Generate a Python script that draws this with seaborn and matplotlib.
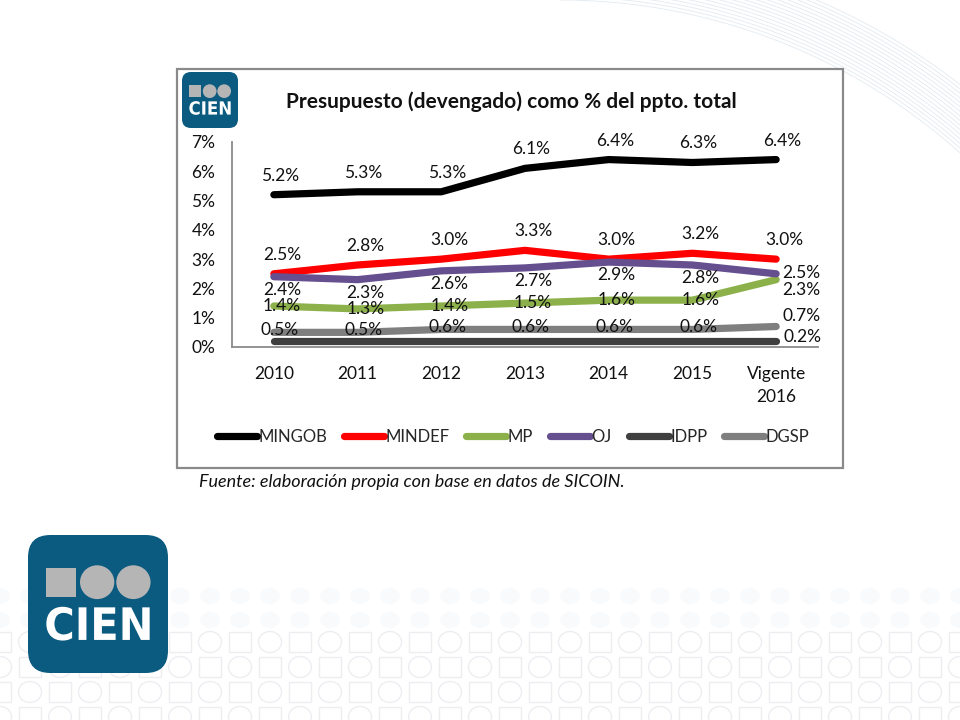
import numpy as np
import pandas as pd
import matplotlib
matplotlib.use("Agg")
import matplotlib.pyplot as plt
import seaborn as sns
from matplotlib.patches import FancyBboxPatch, Rectangle, Ellipse, PathPatch
from matplotlib.textpath import TextPath
from matplotlib.font_manager import FontProperties
from matplotlib.transforms import Affine2D
from matplotlib.lines import Line2D

# --- data ---
years = ["2010", "2011", "2012", "2013", "2014", "2015", "Vigente\n2016"]
series_names = ["MINGOB", "MINDEF", "MP", "OJ", "IDPP", "DGSP"]
mingob = [5.2, 5.3, 5.3, 6.1, 6.4, 6.3, 6.4]
mindef = [2.5, 2.8, 3.0, 3.3, 3.0, 3.2, 3.0]
mp = [1.4, 1.3, 1.4, 1.5, 1.6, 1.6, 2.3]
oj = [2.4, 2.3, 2.6, 2.7, 2.9, 2.8, 2.5]
idpp = [0.2, 0.2, 0.2, 0.2, 0.2, 0.2, 0.2]
dgsp = [0.5, 0.5, 0.6, 0.6, 0.6, 0.6, 0.7]
colors = ["#000000", "#ff0000", "#8cb04a", "#654f8f", "#3f3f3f", "#7f7f7f"]

values = [mingob, mindef, mp, oj, idpp, dgsp]
df = pd.concat([pd.DataFrame({"pos": range(len(years)), "valor": v, "serie": n})
                for n, v in zip(series_names, values)], ignore_index=True)

sns.set_theme(style="white")
plt.rcParams["font.family"] = ["Lato", "DejaVu Sans"]

fig = plt.figure(figsize=(9.6, 7.2), dpi=100)
fig.patch.set_facecolor("white")

# background layer in pixel coordinates (y down)
bg = fig.add_axes([0, 0, 1, 1], zorder=0)
bg.set_xlim(0, 960)
bg.set_ylim(720, 0)
bg.axis("off")

# faint swoosh top right
t = np.linspace(0, np.pi / 2, 200)
for k in range(16):
    r = 600 + k * 3.5
    xs = 560 + r * np.sin(t)
    ys = 600 - r * np.cos(t)
    bg.plot(xs, ys, color="#cfdde7", lw=0.6, alpha=0.6)

# faint square / circle pattern at the bottom
pat = "#eceef1"
for row, yc in enumerate([642, 667, 692, 717]):
    for i, xc in enumerate(np.arange(0, 990, 30)):
        if (i + row) % 2 == 0:
            bg.add_patch(Rectangle((xc - 11, yc - 10), 22, 20, fill=False, ec=pat, lw=1))
        else:
            bg.add_patch(Ellipse((xc, yc), 23, 21, fill=False, ec=pat, lw=1))
for yc in [596, 620]:
    for xc in np.arange(0, 990, 30):
        bg.add_patch(Ellipse((xc, yc), 20, 16, fc="#f9fafb", ec="none"))


def logo(ax, x0, y0, w, h):
    ax.add_patch(FancyBboxPatch((x0, y0), w, h,
                                boxstyle="round,pad=0,rounding_size=%f" % (w * 0.16),
                                fc="#0b5a80", ec="none", zorder=3))
    gray = "#b5b5b5"
    ax.add_patch(Rectangle((x0 + 0.131 * w, y0 + 0.237 * h), 0.21 * w, 0.21 * h,
                           fc=gray, ec="none", zorder=4))
    for cx in [0.494, 0.753]:
        ax.add_patch(Ellipse((x0 + cx * w, y0 + 0.342 * h), 0.245 * w, 0.245 * h,
                             fc=gray, ec="none", zorder=4))
    tp = TextPath((0, 0), "CIEN", size=1, prop=FontProperties(family="DejaVu Sans", weight="bold"))
    ext = tp.get_extents()
    tx0, tx1 = x0 + 0.131 * w, x0 + 0.869 * w
    ty0, ty1 = y0 + 0.52 * h, y0 + 0.765 * h
    tr = Affine2D().translate(-ext.x0, -ext.y0).scale((tx1 - tx0) / ext.width,
                                                     -(ty1 - ty0) / ext.height).translate(tx0, ty1)
    ax.add_patch(PathPatch(tr.transform_path(tp), fc="white", ec="none", zorder=5))


# big logo bottom left
logo(bg, 28, 535, 140, 138)

# chart frame
bg.add_patch(Rectangle((177, 69), 666, 399, fc="white", ec="#8a8a8a", lw=1.6, zorder=2))
logo(bg, 182, 72, 56, 56)

# --- chart ---
ax = fig.add_axes([232 / 960, (720 - 347) / 720, 586 / 960, 205 / 720], zorder=5)
ax.patch.set_alpha(0)
sns.lineplot(data=df, x="pos", y="valor", hue="serie", hue_order=series_names,
             palette=colors, linewidth=5.2, legend=False, ax=ax, sort=False, estimator=None)
for ln in ax.lines:
    ln.set_solid_capstyle("round")
    ln.set_solid_joinstyle("round")

fs = 12.5
ax.set_xlim(-0.5, 6.5)
ax.set_ylim(0, 7)
ax.set_xticks(range(len(years)))
ax.set_xticklabels(years, fontsize=fs, linespacing=1.5)
ax.set_yticks(range(8))
ax.set_yticklabels([f"{v}%" for v in range(8)], fontsize=fs)
ax.tick_params(axis="both", length=0, colors="#111111")
ax.tick_params(axis="y", pad=12)
ax.tick_params(axis="x", pad=14)
ax.set_xlabel("")
ax.set_ylabel("")
sns.despine(ax=ax, top=True, right=True)
for side in ["left", "bottom"]:
    ax.spines[side].set_color("#8a8a8a")
    ax.spines[side].set_linewidth(1.3)

# data labels: offsets in pixels (dx, dy, ha) for regular points and for the last point
px = 72 / 100
offsets = {
    "MINGOB": ((6, 19, "center"), (6, 19, "center")),
    "MINDEF": ((8, 19, "center"), (8, 19, "center")),
    "MP": ((8, 0, "center"), (6, -10, "left")),
    "OJ": ((8, -13, "center"), (6, 1, "left")),
    "IDPP": (None, (7, 4, "left")),
    "DGSP": ((6, 2, "center"), (6, 10, "left")),
}
for name, vals in zip(series_names, values):
    reg, last = offsets[name]
    for i, v in enumerate(vals):
        spec = last if i == len(vals) - 1 else reg
        if spec is None:
            continue
        dx, dy, ha = spec
        ax.annotate(f"{v:.1f}%", (i, v), xytext=(dx * px, dy * px), textcoords="offset points",
                    ha=ha, va="center", fontsize=fs, color="#111111", zorder=6)

# legend
handles = [Line2D([], [], color=c, lw=5.2, solid_capstyle="round") for c in colors]
fig.legend(handles, series_names, loc="center", bbox_to_anchor=(513 / 960, 1 - 437 / 720),
           ncol=6, frameon=False, fontsize=12, handlelength=2.4, handletextpad=0.1,
           columnspacing=1.0)

fig.text(511 / 960, 1 - 102 / 720, "Presupuesto (devengado) como % del ppto. total",
         ha="center", va="center", fontsize=15, fontweight="bold", color="#111111")
fig.text(199 / 960, 1 - 482 / 720, "Fuente: elaboración propia con base en datos de SICOIN.",
         ha="left", va="center", fontsize=13, style="italic", color="#111111")

fig.savefig("out.png", dpi=100, facecolor="white")
